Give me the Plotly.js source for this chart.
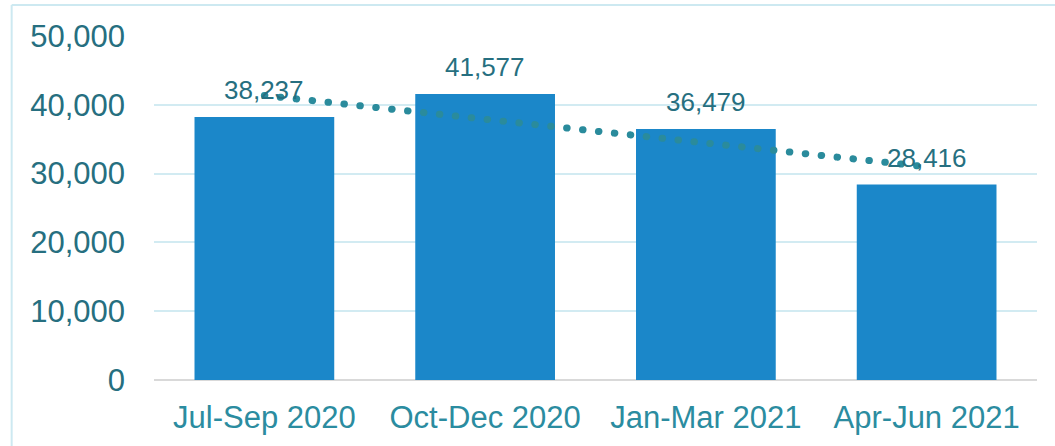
<!DOCTYPE html>
<html>
<head>
<meta charset="utf-8">
<script src="https://cdn.plot.ly/plotly-3.0.1.min.js"></script>
<style>
html,body{margin:0;padding:0;background:#fff;}
#chart{width:1055px;height:446px;}
.scatterlayer .js-line{stroke-linecap:round !important;}
</style>
</head>
<body>
<div id="chart"></div>
<script>
// Data
const categories = ["Jul-Sep 2020", "Oct-Dec 2020", "Jan-Mar 2021", "Apr-Jun 2021"];
const values = [38237, 41577, 36479, 28416];
const valueLabels = ["38,237", "41,577", "36,479", "28,416"];
// Linear trendline endpoints (first and last quarter)
const trendCategories = ["Jul-Sep 2020", "Apr-Jun 2021"];
const trendValues = [41361, 30993];
const yTickVals = [0, 10000, 20000, 30000, 40000, 50000];
const yTickText = ["0", "10,000", "20,000", "30,000", "40,000", "50,000"];

const font = "Liberation Sans, Arial, sans-serif";

const traces = [
  {
    type: "bar",
    x: categories,
    y: values,
    marker: {color: "#1b87c9"},
    hoverinfo: "none"
  },
  {
    type: "scatter",
    mode: "lines",
    x: trendCategories,
    y: trendValues,
    line: {color: "#2a8b9c", width: 7, dash: "0.5px,15.5px"},
    hoverinfo: "none"
  }
];

const annotations = categories.map((c, i) => ({
  x: c, y: values[i], xref: "x", yref: "y",
  text: valueLabels[i], showarrow: false,
  yanchor: "bottom", yshift: 10,
  font: {family: font, size: 26, color: "#266f80"}
}));

const L = 153.5, R = 1037.5, T = 36, B = 380;
const pw = R - L, ph = B - T;
const px = v => (v - L) / pw;
const py = v => (B - v) / ph;

const layout = {
  width: 1055, height: 446,
  margin: {l: L, r: 1055 - R, t: T, b: 446 - B, pad: 0},
  paper_bgcolor: "#ffffff",
  plot_bgcolor: "#ffffff",
  showlegend: false,
  bargap: 0.367,
  font: {family: font},
  xaxis: {
    type: "category",
    showgrid: false,
    showline: false,
    zeroline: false,
    ticks: "",
    tickfont: {family: font, size: 31, color: "#2b8ca0"},
    ticklabelstandoff: 16,
    fixedrange: true
  },
  yaxis: {
    range: [0, 50000],
    tickvals: yTickVals,
    ticktext: yTickText,
    showgrid: true,
    gridcolor: "#d2ebf2",
    gridwidth: 2,
    zeroline: true,
    zerolinecolor: "#d9d9d9",
    zerolinewidth: 2,
    showline: false,
    ticks: "",
    tickfont: {family: font, size: 31, color: "#266f80"},
    ticklabelstandoff: 28,
    fixedrange: true
  },
  annotations: annotations,
  shapes: [
    {type: "line", xref: "paper", yref: "paper",
     x0: px(11), x1: px(1060), y0: py(5), y1: py(5),
     line: {color: "#cde9f1", width: 2}},
    {type: "line", xref: "paper", yref: "paper",
     x0: px(11), x1: px(11), y0: py(5), y1: py(450),
     line: {color: "#cde9f1", width: 2}}
  ]
};

Plotly.newPlot("chart", traces, layout, {staticPlot: true, displayModeBar: false});
</script>
</body>
</html>
